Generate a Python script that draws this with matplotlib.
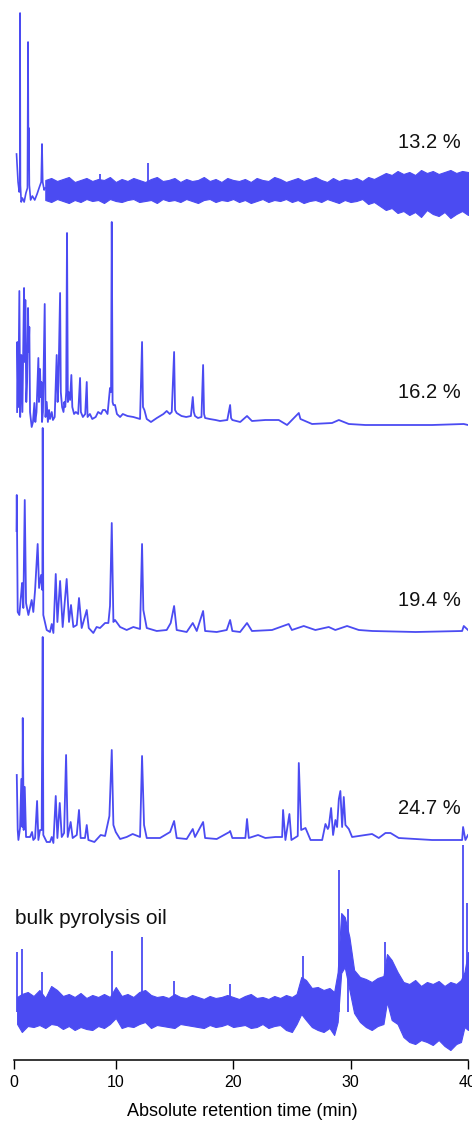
import matplotlib.pyplot as plt
import numpy as np

plt.rcParams['font.family'] = ['Liberation Sans', 'DejaVu Sans']

BLUE = '#4b4bf2'

# ---- trace 13.2 % (noisy) : start of run as a line, rest as a noise band ----
t132_line = [1.55, 1.60, 1.68, 1.78, 1.83, 1.85, 1.88, 1.95, 2.05, 2.20, 2.35, 2.48, 2.53,
             2.57, 2.60, 2.64, 2.75, 2.90, 3.10, 3.30, 3.50, 3.65, 3.72, 3.78, 3.90, 4.00]
y132_line = [36, 25, 8, -2, 5, 177, 5, -12, -8, -12, -3, 2, 148,
             20, 62, 5, -10, -6, -10, -4, 3, 8, 46, 8, 0, 2]
t132_band = np.arange(4.0, 40.01, 0.5)
hi132 = [10, 12, 9, 11, 13, 8, 10, 12, 9, 11,
         10, 13, 8, 11, 9, 12, 10, 8, 11, 13,
         9, 10, 12, 8, 11, 9, 10, 13, 9, 11,
         8, 12, 10, 9, 11, 8, 12, 10, 9, 13,
         11, 8, 10, 12, 9, 11, 13, 10, 8, 12,
         9, 11, 10, 12, 9, 13, 11,
         14, 17, 15, 19, 16, 18, 15, 20, 17, 19, 16, 18, 20, 17, 19, 18]
lo132 = [-10, -12, -9, -11, -13, -10, -12, -9, -11, -10,
         -13, -9, -11, -12, -10, -9, -12, -11, -10, -13,
         -9, -11, -10, -12, -9, -11, -13, -10, -9, -12,
         -10, -11, -9, -12, -10, -13, -11, -9, -12, -10,
         -11, -9, -12, -10, -13, -11, -10, -12, -9, -11,
         -13, -10, -12, -11, -9, -14, -12,
         -16, -20, -18, -23, -21, -25, -22, -27, -20, -24, -26, -22, -28, -24, -21, -25]
pk132_t = [8.66, 12.75]
pk132_h = [16, 27]

# ---- trace 16.2 % ----
t162 = [1.60, 1.62, 1.70, 1.79, 1.86, 1.96, 2.05, 2.19, 2.25, 2.30, 2.38, 2.45, 2.53, 2.58,
        2.64, 2.70, 2.84, 2.95, 3.07, 3.15, 3.25, 3.41, 3.46, 3.55, 3.61, 3.67, 3.72, 3.80,
        3.95, 4.02, 4.12, 4.22, 4.32, 4.40, 4.55, 4.65, 4.80, 4.90, 4.97, 5.05, 5.12, 5.26,
        5.32, 5.43, 5.55, 5.62, 5.70, 5.78, 5.85, 5.92, 5.99, 6.11, 6.22, 6.30, 6.45, 6.60,
        6.80, 6.96, 7.03, 7.20, 7.40, 7.53, 7.60, 7.80, 8.00, 8.29, 8.50, 8.75, 8.90, 9.09,
        9.30, 9.51, 9.60, 9.66, 9.73, 9.80, 9.94, 10.10, 10.37, 10.60, 11.00, 11.50, 11.80,
        12.07, 12.24, 12.32, 12.44, 12.64, 13.00, 13.50, 14.06, 14.34, 14.60, 14.77, 14.97,
        15.05, 15.19, 15.60, 16.00, 16.40, 16.56, 16.65, 16.75, 17.00, 17.30, 17.44, 17.52,
        17.61, 18.00, 18.50, 18.88, 19.50, 19.74, 19.82, 19.93, 20.60, 21.18, 21.60, 22.74,
        23.88, 24.59, 25.59, 25.73, 26.72, 28.42, 29.00, 29.85, 31.26, 36.94, 39.64, 40.00]
y162 = [10, 80, 15, 131, 5, 67, 10, 134, 60, 122, 20, 40, 114, 70,
        95, 10, -5, 0, 19, 0, 10, 64, 20, 53, 25, 40, 0, 10,
        118, 5, 20, 0, 12, 3, 10, 2, 5, 40, 67, 20, 40, 129,
        30, 15, 10, 20, 15, 30, 189, 20, 30, 22, 47, 15, 8, 10,
        8, 44, 10, 5, 8, 40, 5, 8, 3, 5, 10, 8, 12, 12,
        8, 34, 30, 200, 20, 17, 17, 8, 5, 8, 6, 5, 4,
        3, 80, 15, 12, 3, 0, 4, 8, 11, 8, 10, 70,
        12, 9, 6, 5, 6, 25, 10, 6, 4, 5, 57, 8,
        4, 3, 2, 1, 2, 17, 4, 2, 0, 6, 1, 2,
        2, -3, 9, 3, -2, -1, 2, -2, -3, -3, -2, -3]

# ---- trace 19.4 % ----
t194 = [1.55, 1.57, 1.65, 1.79, 1.96, 2.02, 2.13, 2.25, 2.36, 2.56, 2.84, 2.98, 3.13, 3.35,
        3.47, 3.64, 3.75, 3.78, 3.83, 4.12, 4.40, 4.55, 4.69, 4.89, 5.03, 5.26, 5.48, 5.82,
        6.02, 6.19, 6.39, 6.68, 6.87, 7.10, 7.53, 7.70, 8.09, 8.37, 8.66, 9.09, 9.37, 9.51,
        9.66, 9.80, 9.94, 10.37, 10.93, 11.50, 12.07, 12.24, 12.35, 12.64, 13.49, 14.34,
        14.68, 14.97, 15.19, 16.04, 16.56, 16.90, 17.44, 17.61, 18.60, 19.45, 19.74, 19.93,
        20.59, 21.18, 21.60, 23.31, 24.73, 25.00, 26.01, 27.00, 28.14, 28.70, 29.70, 30.70,
        31.86, 35.54, 39.50, 39.64, 40.00]
y194 = [100, 136, 19, 16, 39, 48, 23, 131, 28, 16, 31, 19, 41, 87,
        43, 56, 41, 203, 16, 1, -1, 7, -2, 57, 9, 50, 4, 52,
        9, 26, 4, 6, 33, 3, 21, 3, -2, 4, 3, 8, 8, 25,
        108, 9, 11, 4, 1, 4, 2, 87, 21, 3, 0, 1,
        8, 25, 1, -1, 8, 0, 20, 0, -1, 1, 11, 0,
        -1, 8, 0, 1, 7, 1, 5, 1, 4, 1, 5, 1,
        0, -1, 0, 5, 1]

# ---- trace 24.7 % ----
t247 = [1.57, 1.65, 1.71, 1.85, 1.96, 2.05, 2.08, 2.16, 2.25, 2.36, 2.70, 2.87, 2.98, 3.13,
        3.30, 3.41, 3.55, 3.69, 3.78, 3.83, 4.12, 4.40, 4.55, 4.69, 4.89, 5.03, 5.23, 5.40,
        5.60, 5.77, 5.91, 6.16, 6.33, 6.68, 6.87, 7.01, 7.38, 7.53, 7.67, 8.18, 8.72, 9.09,
        9.46, 9.66, 9.80, 10.00, 10.37, 10.93, 11.44, 12.07, 12.24, 12.41, 12.64, 13.77,
        14.63, 14.97, 15.19, 16.04, 16.56, 16.75, 17.44, 17.61, 18.60, 19.68, 19.74, 19.93,
        21.04, 21.18, 21.33, 22.12, 22.74, 23.60, 24.17, 24.25, 24.45, 24.79, 24.96, 25.50,
        25.59, 25.79, 26.16, 26.59, 27.58, 27.86, 28.06, 28.14, 28.34, 28.51, 28.71, 28.85,
        29.00, 29.13, 29.28, 29.42, 29.56, 29.85, 30.13, 31.26, 31.83, 32.40, 32.97, 33.40,
        34.10, 36.94, 39.50, 39.58, 39.78, 40.00]
y247 = [63, 8, -2, 10, 59, 11, 120, 8, 51, 1, 1, 6, -2, 0,
        37, -2, 8, 8, 201, 3, -4, -4, 1, -5, 42, 0, 35, 1,
        5, 83, 1, 16, 0, 3, 28, 0, 0, 13, -2, -4, 3, 2,
        22, 88, 13, 6, -1, 1, 4, 1, 82, 13, 0, 0,
        6, 17, 0, -1, 9, 1, 16, 0, -1, 6, 7, 0,
        0, 19, 0, 3, 0, 1, 1, 28, -2, 24, -2, 2,
        75, 8, 10, -2, -2, 14, 9, 11, 30, 3, 18, 11,
        39, 47, 11, 41, 13, 9, 1, 3, 4, 0, 5, 5,
        0, -2, -2, 11, -2, 3]

# ---- bulk pyrolysis oil (noisy) ----
tbulk = [1.6, 2.0, 2.5, 3.0, 3.5, 4.0, 4.5, 5.0, 5.5, 6.0, 6.5, 7.0, 7.5, 8.0, 8.5, 9.0,
         9.5, 10.0, 10.5, 11.0, 11.5, 12.0, 12.5, 13.0, 13.5, 14.0, 14.5, 15.0, 15.5, 16.0,
         16.5, 17.0, 17.5, 18.0, 18.5, 19.0, 19.5, 20.0, 20.5, 21.0, 21.5, 22.0, 22.5, 23.0,
         23.5, 24.0, 24.5, 25.0, 25.4, 25.8, 26.2, 26.7, 27.2, 27.7, 28.2, 28.6, 28.9, 29.2,
         29.5, 29.9, 30.3, 30.8, 31.3, 31.8, 32.3, 32.8, 33.1, 33.5, 34.0, 34.5, 35.0, 35.5,
         36.0, 36.5, 37.0, 37.5, 38.0, 38.5, 39.0, 39.4, 39.7, 40.0]
hibulk = [15, 18, 20, 16, 22, 14, 26, 22, 16, 18, 15, 19, 14, 17, 15, 18,
          15, 25, 16, 18, 15, 20, 22, 17, 15, 16, 14, 18, 15, 14,
          17, 15, 13, 16, 14, 15, 17, 15, 13, 16, 18, 14, 15, 13,
          16, 14, 17, 15, 18, 35, 32, 24, 25, 22, 24, 20, 40, 99,
          95, 75, 42, 35, 33, 30, 34, 36, 58, 52, 40, 30, 28, 32,
          26, 30, 28, 31, 26, 30, 28, 32, 40, 60]
lobulk = [-12, -20, -14, -15, -13, -16, -12, -13, -17, -14, -18, -15, -17, -18, -14, -16,
          -12, -6, -16, -14, -15, -12, -10, -16, -13, -14, -15, -16, -12, -13,
          -14, -15, -16, -13, -15, -14, -12, -15, -14, -13, -16, -15, -12, -16,
          -14, -13, -18, -20, -12, -2, -8, -15, -18, -20, -16, -23, -10, 39,
          45, 22, -1, -10, -15, -18, -14, -12, 10, -8, -12, -25, -30, -32,
          -28, -30, -33, -28, -34, -38, -32, -30, -15, -18]
pkbulk_t = [1.57, 1.99, 3.72, 9.66, 12.24, 14.97, 19.74, 25.95, 29.05, 29.76, 32.96, 39.56, 39.90]
pkbulk_h = [60, 63, 40, 61, 75, 31, 28, 56, 142, 103, 70, 167, 109]

labels = ['13.2 %', '16.2 %', '19.4 %', '24.7 %', 'bulk pyrolysis oil']

# layout (vertical offsets of each trace, in axis units)
off = [870, 638, 429, 222, 48]
label_xy = [(39.41, 917), (39.41, 668), (39.41, 460), (39.41, 251), (1.42, 141)]

fig = plt.figure(figsize=(4.72, 11.22), dpi=100)
ax = fig.add_axes([14.3 / 472, 62 / 1122, 453.7 / 472, 1060 / 1122])

# 13.2 %
ax.plot(t132_line, np.array(y132_line) + off[0], color=BLUE, lw=1.2)
ax.fill_between(t132_band, np.array(lo132) + off[0], np.array(hi132) + off[0],
                color=BLUE, lw=0.8, edgecolor=BLUE)
ax.vlines(pk132_t, off[0], np.array(pk132_h) + off[0], color=BLUE, lw=1.3)

# clean traces
ax.plot(t162, np.array(y162) + off[1], color=BLUE, lw=1.3)
ax.plot(t194, np.array(y194) + off[2], color=BLUE, lw=1.3)
ax.plot(t247, np.array(y247) + off[3], color=BLUE, lw=1.3)

# bulk
ax.fill_between(tbulk, np.array(lobulk) + off[4], np.array(hibulk) + off[4],
                color=BLUE, lw=0.8, edgecolor=BLUE)
ax.vlines(pkbulk_t, off[4], np.array(pkbulk_h) + off[4], color=BLUE, lw=1.3)

for i, lab in enumerate(labels):
    x, y = label_xy[i]
    if i < 4:
        ax.text(x, y, lab, ha='right', va='center', fontsize=14.5, color='#111111')
    else:
        ax.text(x, y, lab, ha='left', va='center', fontsize=15, color='#111111')

ax.set_xlim(1.36, 40)
ax.set_ylim(0, 1060)
for s in ['top', 'right', 'left']:
    ax.spines[s].set_visible(False)
ax.spines['bottom'].set_linewidth(1.1)
ax.set_yticks([])
ax.set_xticks([1.36, 10, 20, 30, 40])
ax.set_xticklabels(['0', '10', '20', '30', '40'])
ax.tick_params(axis='x', direction='out', length=6.5, width=1.0, pad=4, labelsize=11.5)
ax.patch.set_alpha(0)

fig.text(242 / 472, 1 - 1111 / 1122, 'Absolute retention time (min)',
         ha='center', va='center', fontsize=13)

fig.savefig('out.png', dpi=100)
